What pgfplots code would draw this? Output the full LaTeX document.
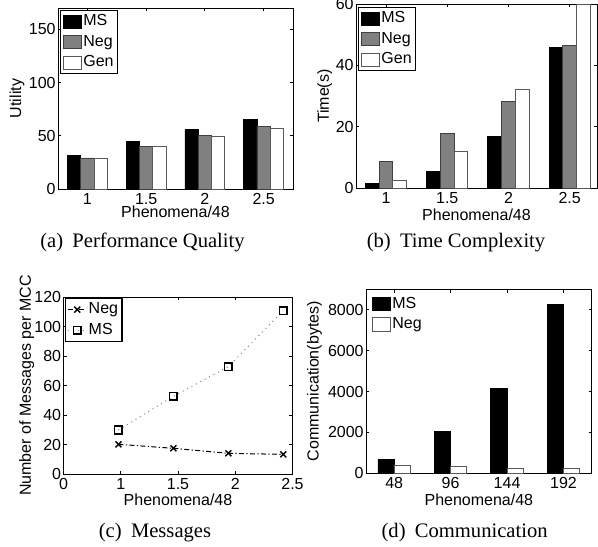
\documentclass[border=0pt]{standalone}
\usepackage{fontspec}
\setmainfont{Liberation Sans}
\newfontfamily\capfont{Liberation Serif}
\usepackage{pgfplots}
\pgfplotsset{compat=1.18}
\pgfplotsset{
  myaxis/.style={
    scale only axis,
    anchor=south west,
    font=\fontsize{8}{9.5}\selectfont,
    tick label style={font=\fontsize{8}{9.5}\selectfont},
    yticklabel style={inner sep=1pt},
    xticklabel style={inner sep=1pt, yshift=-1pt},
    /pgf/number format/assume math mode=true,
    /pgf/number format/1000 sep={},
    major tick length=1.6pt,
    tick align=inside,
    axis line style={line width=0.5pt},
    every tick/.style={black, line width=0.4pt},
    xlabel style={at={(axis description cs:0.5,0)}, anchor=center, yshift=-12pt, inner sep=0.3pt},
    legend cell align=left,
    legend style={font=\fontsize{8}{9.5}\selectfont, draw=black, line width=0.6pt,
      inner xsep=1pt, inner ysep=1pt, row sep=1.2pt, column sep=0pt,
      nodes={inner sep=1pt}},
  },
  ylab/.style={ylabel style={at={(axis description cs:#1,0.5)}, anchor=center}},
  barleg/.style={legend image code/.code={\draw[##1] (0pt,-3.3pt) rectangle (9pt,3.3pt);}},
  msbar/.style={ybar, fill=black, draw=black, line width=0.4pt},
  negbar/.style={ybar, fill=black!50, draw=black!75, line width=0.4pt},
  genbar/.style={ybar, fill=white, draw=black!65, line width=0.4pt},
}
\begin{document}
\begin{tikzpicture}
% (a) Performance Quality
\begin{axis}[myaxis, at={(29pt,-94.5pt)}, width=117.5pt, height=90.5pt,
  xmin=0.75, xmax=2.75, ymin=0, ymax=170,
  xtick={1,1.5,2,2.5}, xticklabels={1,1.5,2,2.5}, ytick={0,50,100,150},
  xlabel={Phenomena/48}, ylabel={Utility}, ylab=-0.1745,
  xlabel style={yshift=0.5pt},
  legend style={at={(axis description cs:0,1)}, anchor=north west, xshift=1pt, yshift=-1pt},
  barleg]
\addplot[msbar, bar width=0.113, bar shift=-0.113] coordinates {(1,31.8) (1.5,44.3) (2,56) (2.5,65.4)};
\addplot[negbar, bar width=0.113, bar shift=0] coordinates {(1,29.2) (1.5,39.9) (2,50) (2.5,59.1)};
\addplot[genbar, bar width=0.113, bar shift=0.113] coordinates {(1,28.9) (1.5,40.2) (2,49.4) (2.5,56.9)};
\legend{MS,Neg,Gen}
\end{axis}
% (b) Time Complexity
\begin{axis}[myaxis, at={(178pt,-94.15pt)}, width=120.5pt, height=92.15pt,
  xmin=0.755, xmax=2.723, ymin=0, ymax=60,
  xtick={1,1.5,2,2.5}, xticklabels={1,1.5,2,2.5}, ytick={0,20,40,60},
  xlabel={Phenomena/48}, ylabel={Time(s)}, ylab=-0.130,
  xlabel style={yshift=-1pt},
  legend style={at={(axis description cs:0,1)}, anchor=north west, xshift=1pt, yshift=-1.5pt},
  barleg]
\addplot[msbar, bar width=0.112, bar shift=-0.112] coordinates {(1,1.6) (1.5,5.4) (2,16.8) (2.5,45.9)};
\addplot[negbar, bar width=0.112, bar shift=0] coordinates {(1,8.8) (1.5,17.9) (2,28.4) (2.5,46.4)};
\addplot[genbar, bar width=0.112, bar shift=0.112] coordinates {(1,2.6) (1.5,12.1) (2,32.3) (2.5,60)};
\legend{MS,Neg,Gen}
\end{axis}
% (c) Messages
\begin{axis}[myaxis, at={(31.75pt,-237.15pt)}, width=114.5pt, height=88.65pt,
  xmin=0, xmax=4, ymin=0, ymax=120,
  xtick={0,1,2,3,4}, xticklabels={0,1,1.5,2,2.5}, ytick={0,20,...,120},
  xlabel={Phenomena/48}, ylabel={Number of Messages per MCC}, ylab=-0.161,
  xlabel style={yshift=-0.8pt},
  legend style={at={(axis description cs:0,1)}, anchor=north west, xshift=0.8pt, yshift=-0.5pt},
  legend image code/.code={\draw[mark repeat=2,mark phase=2,#1] plot coordinates {(0pt,0pt) (4.5pt,0pt) (9pt,0pt)};}]
\addplot[black, line width=0.5pt, dash pattern=on 2.5pt off 1.2pt on 0.6pt off 1.2pt,
  mark=x, mark size=2.1pt, mark options={solid, line width=0.7pt}]
  coordinates {(0.96,20.3) (1.92,17.6) (2.88,14.2) (3.84,13.5)};
\addplot[black!50, line width=0.5pt, dotted,
  mark=square, mark size=1.9pt, mark options={solid, draw=black, line width=0.8pt}]
  coordinates {(0.96,30) (1.92,52.8) (2.88,72.9) (3.84,110.8)};
\legend{Neg,MS}
\end{axis}
% (d) Communication
\begin{axis}[myaxis, at={(183pt,-236.65pt)}, width=112.85pt, height=92pt,
  xmin=0.5, xmax=4.5, ymin=0, ymax=9000, scaled y ticks=false,
  xtick={1,2,3,4}, xticklabels={48,96,144,192}, ytick={0,2000,4000,6000,8000},
  xlabel={Phenomena/48}, ylabel={Communication(bytes)}, ylab=-0.228,
  xlabel style={yshift=-1.3pt},
  legend style={draw=none, at={(axis description cs:0,1)}, anchor=north west, xshift=1.5pt, yshift=-1.5pt},
  barleg]
\addplot[msbar, bar width=0.288, bar shift=-0.144] coordinates {(1,700) (2,2036) (3,4170) (4,8257)};
\addplot[genbar, bar width=0.288, bar shift=0.144] coordinates {(1,391) (2,326) (3,244) (4,228)};
\legend{MS,Neg}
\end{axis}
% captions
\node[font=\capfont\fontsize{10.3}{12}\selectfont] at (71.25pt,-121pt) {(a)\hspace{0.45em}Performance Quality};
\node[font=\capfont\fontsize{10.3}{12}\selectfont] at (228pt,-121.5pt) {(b)\hspace{0.45em}Time Complexity};
\node[font=\capfont\fontsize{10.3}{12}\selectfont] at (77.5pt,-266.5pt) {(c)\hspace{0.45em}Messages};
\node[font=\capfont\fontsize{10.3}{12}\selectfont] at (232.3pt,-266.5pt) {(d)\hspace{0.45em}Communication};
\pgfresetboundingbox
\useasboundingbox (0pt,0pt) rectangle (299pt,-273pt);
\end{tikzpicture}
\end{document}
